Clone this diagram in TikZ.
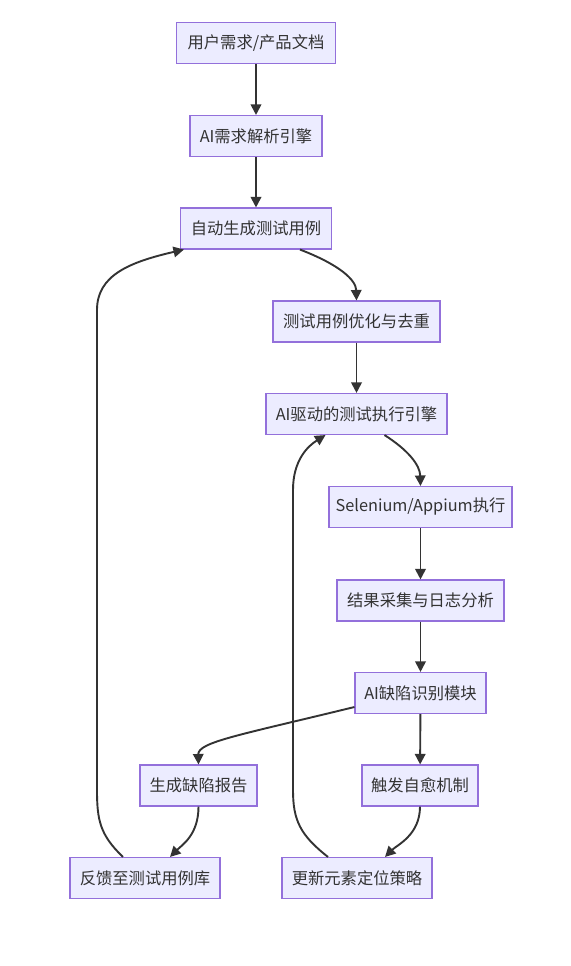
\documentclass[tikz,border=0pt]{standalone}
\usepackage{fontspec}
\setmainfont{Noto Sans CJK SC}
\usetikzlibrary{arrows.meta,calc}
\definecolor{boxfill}{HTML}{ECECFF}
\definecolor{boxline}{HTML}{9370DB}
\definecolor{ink}{HTML}{333333}
\begin{document}
\begin{tikzpicture}[x=1pt,y=-1pt,
  box/.style={draw=boxline,fill=boxfill,line width=1.1pt,minimum height=41pt,inner sep=0pt,text=ink,font=\fontsize{16.3}{19}\selectfont},
  link/.style={draw=ink,line width=1.9pt,-{Triangle[length=10.5pt,width=10.5pt]}}]
\useasboundingbox (0,0) rectangle (570,966);
\node[box,minimum width=159pt] (n1) at (256,43) {用户需求/产品文档};
\node[box,minimum width=132pt] (n2) at (256,136) {AI需求解析引擎};
\node[box,minimum width=151pt] (n3) at (256,228.5) {自动生成测试用例};
\node[box,minimum width=167pt] (n4) at (356.5,321.5) {测试用例优化与去重};
\node[box,minimum width=181pt] (n5) at (356.5,414) {AI驱动的测试执行引擎};
\node[box,minimum width=183pt] (n6) at (420.5,507) {Selenium/Appium执行};
\node[box,minimum width=167pt] (n7) at (420.5,600.5) {结果采集与日志分析};
\node[box,minimum width=131pt] (n8) at (420.5,693) {AI缺陷识别模块};
\node[box,minimum width=117pt] (n9) at (198.5,785.5) {生成缺陷报告};
\node[box,minimum width=116pt] (n10) at (420,785.5) {触发自愈机制};
\node[box,minimum width=150pt] (n11) at (145,878) {反馈至测试用例库};
\node[box,minimum width=150pt] (n12) at (357,878) {更新元素定位策略};

\draw[link] (n1) -- (n2);
\draw[link] (n2) -- (n3);
\draw[link] ($(n3.south)+(44,0)$) .. controls (340,265) and (356,280) .. (n4.north);
\draw[link] (n4) -- (n5);
\draw[link] ($(n5.south)+(28,0)$) .. controls (408,450) and (420,465) .. (n6.north);
\draw[link] (n6) -- (n7);
\draw[link] (n7) -- (n8);
\draw[link] ($(n8.west)+(0,14)$) .. controls (240,735) and (198,742) .. (n9.north);
\draw[link] (n8) -- (n10);
\draw[link] (n9.south) .. controls (198.5,835) and (182,845) .. ($(n11.north)+(25,0)$);
\draw[link] (n10.south) .. controls (420,835) and (397,845) .. ($(n12.north)+(28,0)$);
\draw[link] ($(n12.north)+(-29,0)$) .. controls (300,835) and (293,820) .. (293,790) -- (293,490) .. controls (293,460) and (308,446) .. ($(n5.south)+(-31,0)$);
\draw[link] ($(n11.north)+(-22,0)$) .. controls (100,835) and (97,820) .. (97,790) -- (97,310) .. controls (97,275) and (130,262) .. ($(n3.south west)+(4,0)$);
\end{tikzpicture}
\end{document}
